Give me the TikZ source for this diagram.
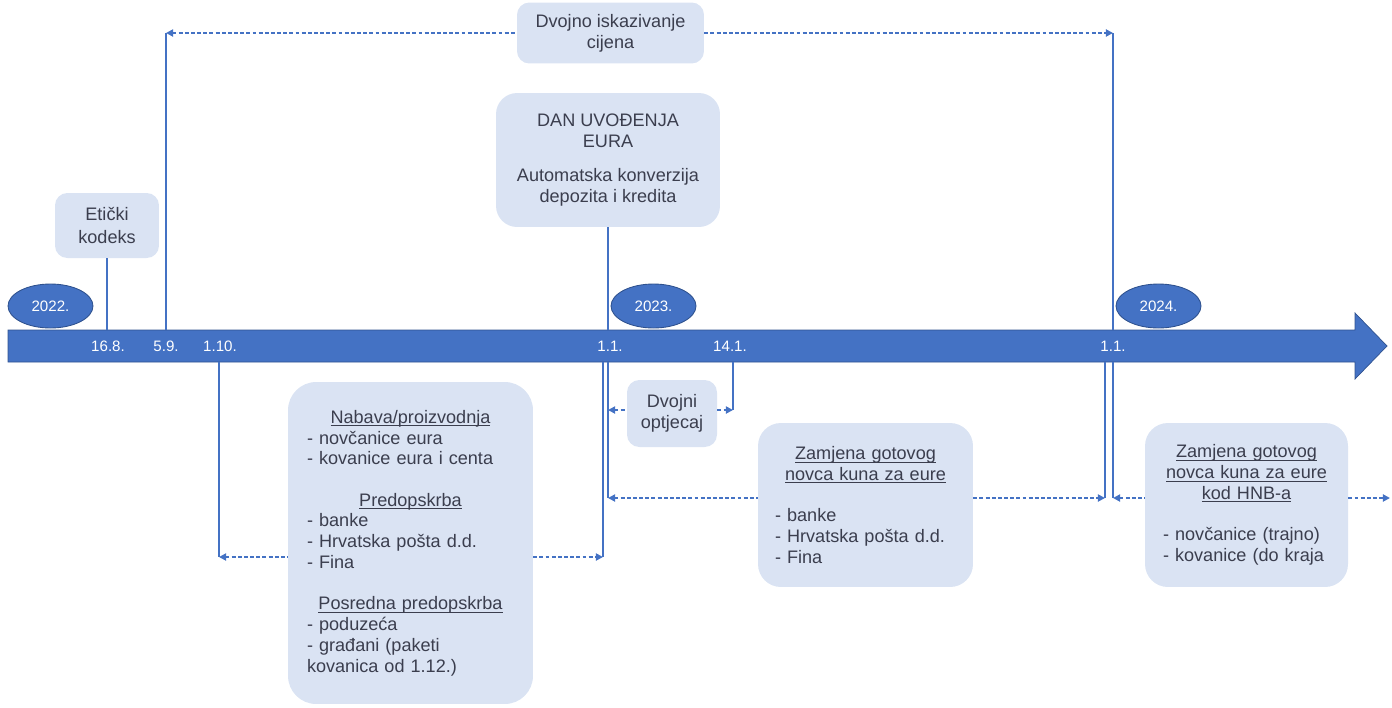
\documentclass[tikz,border=0pt]{standalone}
\usepackage{fontspec}
\setmainfont{Liberation Sans}
\usetikzlibrary{positioning,arrows.meta,shapes.geometric}
\definecolor{barblue}{HTML}{4472C4}
\definecolor{baredge}{HTML}{2F528F}
\definecolor{boxfill}{HTML}{DAE3F3}
\definecolor{boxtext}{HTML}{3B3E4E}
\tikzset{>={Triangle[length=4pt,width=4pt]}}
\newcommand{\ul}[1]{\setbox0\hbox{#1}\rlap{\rule[-1.6pt]{\wd0}{0.5pt}}\box0}
\newcommand{\head}[1]{\makebox[\hsize]{\ul{#1}}}

\begin{document}
\begin{tikzpicture}[x=0.02cm,y=-0.02cm,
    infobox/.style={fill=boxfill,text=boxtext,rounded corners=7pt,inner sep=0pt,
        font=\fontsize{10.3}{11.8}\selectfont,align=center},
    listbox/.style={infobox,align=left,rounded corners=13pt},
    year/.style={ellipse,fill=barblue,draw=baredge,line width=0.5pt,text=white,inner sep=0pt,
        minimum width=1.7cm,minimum height=0.88cm,font=\fontsize{8.6}{10}\selectfont},
    datum/.style={text=white,inner sep=0pt,font=\fontsize{8.6}{10}\selectfont},
    tick/.style={draw=barblue,line width=1pt},
    span/.style={draw=barblue,line width=1pt,dash pattern=on 2.2pt off 1.3pt}]
    \useasboundingbox (0,0) rectangle (1392,707);

    % vremenska os
    \fill[barblue,draw=baredge,line width=0.4pt] (8,330) -- (1355,330) -- (1355,313) -- (1387,346)
        -- (1355,379) -- (1355,362) -- (8,362) -- cycle;

    \node [year] (y22) at (50.5,306) {2022.};
    \node [year] (y23) at (653.5,306) {2023.};
    \node [year] (y24) at (1158.5,306) {2024.};

    \node [datum] (d168) at (108,346) {16.8.};
    \node [datum] (d59) at (166,346) {5.9.};
    \node [datum] (d110) at (220,346) {1.10.};
    \node [datum] (d11a) at (610,346) {1.1.};
    \node [datum] (d141) at (730,346) {14.1.};
    \node [datum] (d11b) at (1113,346) {1.1.};

    % okviri
    \node [infobox,minimum width=2.08cm,minimum height=1.3cm] (kodeks) at (107,225.5) {Etički\\[1pt]kodeks};
    \node [infobox,minimum width=3.74cm,minimum height=1.22cm] (iskaz) at (610.5,33) {Dvojno iskazivanje\\cijena};
    \node [infobox,rounded corners=12pt,minimum width=4.48cm,minimum height=2.68cm] (uvod) at (608,160)
        {DAN UVOĐENJA\\EURA\\[8pt]Automatska konverzija\\depozita i kredita};
    \node [infobox,minimum width=1.8cm,minimum height=1.34cm] (optj) at (672,413.5) {Dvojni\\optjecaj};
    \node [listbox,rounded corners=16pt,text width=4.14cm,inner xsep=0.38cm,minimum height=6.44cm] (nabava) at (410.5,543) {
        \head{Nabava/proizvodnja}\\
        - novčanice eura\\
        - kovanice eura i centa\\[11.8pt]
        \head{Predopskrba}\\
        - banke\\
        - Hrvatska pošta d.d.\\
        - Fina\\[11.8pt]
        \head{Posredna predopskrba}\\
        - poduzeća\\
        - građani (paketi\\
        kovanica od 1.12.)};
    \node [listbox,text width=3.62cm,inner xsep=0.34cm,minimum height=3.28cm] (zamjena) at (865.5,505) {
        \head{Zamjena gotovog}\\
        \head{novca kuna za eure}\\[11.8pt]
        - banke\\
        - Hrvatska pošta d.d.\\
        - Fina};
    \node [listbox,text width=3.34cm,inner xsep=0.36cm,minimum height=3.28cm] (hnb) at (1246.5,505) {
        \head{Zamjena gotovog}\\
        \head{novca kuna za eure}\\
        \head{kod HNB-a}\\[11.8pt]
        - novčanice (trajno)\\
        - kovanice (do kraja};

    % tocke na osi
    \coordinate (t59) at (166,33);
    \coordinate (b59) at (166,330);
    \coordinate (t24) at (1113,33);
    \coordinate (b24) at (1113,330);
    \coordinate (c24) at (1113,362);
    \coordinate (e24) at (1113,498);
    \coordinate (k24) at (1105,362);
    \coordinate (k24e) at (1105,498);
    \coordinate (a23) at (603,362);
    \coordinate (a23e) at (603,557);
    \coordinate (c23) at (608,362);
    \coordinate (c23e) at (608,498);
    \coordinate (o23) at (608,410);
    \coordinate (c110) at (219,362);
    \coordinate (c110e) at (219,557);
    \coordinate (c141) at (733,362);
    \coordinate (c141e) at (733,410);
    \coordinate (kraj) at (1390,498);

    \draw [tick] (kodeks.south) -- (kodeks.south |- b59);
    \draw [tick] (uvod.south) -- (uvod.south |- b59);
    \draw [tick] (b59) -- (t59);
    \draw [tick] (b24) -- (t24);
    \draw [tick] (c24) -- (e24);
    \draw [tick] (k24) -- (k24e);
    \draw [tick] (a23) -- (a23e);
    \draw [tick] (c23) -- (c23e);
    \draw [tick] (c110) -- (c110e);
    \draw [tick] (c141) -- (c141e);

    \draw [span,<-] (t59) -- (iskaz.west);
    \draw [span,->] (iskaz.east) -- (t24);
    \draw [span,<-] (c110e) -- (c110e -| nabava.west);
    \draw [span,->] (c110e -| nabava.east) -- (a23e);
    \draw [span,<-] (o23) -- (o23 -| optj.west);
    \draw [span,->] (o23 -| optj.east) -- (c141e);
    \draw [span,<-] (c23e) -- (c23e -| zamjena.west);
    \draw [span,->] (c23e -| zamjena.east) -- (k24e);
    \draw [span,<-] (e24) -- (e24 -| hnb.west);
    \draw [span,->] (e24 -| hnb.east) -- (kraj);
\end{tikzpicture}
\end{document}
